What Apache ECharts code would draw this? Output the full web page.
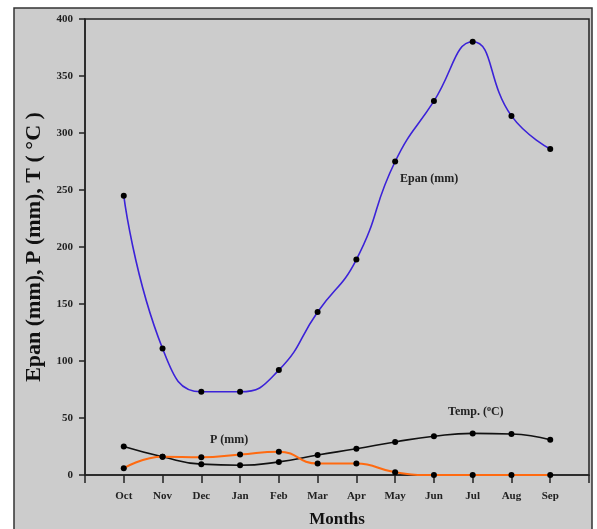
<!DOCTYPE html>
<html>
<head>
<meta charset="utf-8">
<script src="https://cdn.jsdelivr.net/npm/echarts@6/dist/echarts.min.js"></script>
<style>
html,body{margin:0;padding:0;background:#fff;}
#c{width:597px;height:529px;}
</style>
</head>
<body>
<div id="c"></div>
<script>
var months = ['Oct','Nov','Dec','Jan','Feb','Mar','Apr','May','Jun','Jul','Aug','Sep'];
var epan = [245, 111, 73, 73, 92, 143, 189, 275, 328, 380, 315, 286];
var temp = [25, 16, 9.5, 8.5, 11.5, 17.5, 23, 29, 34, 36.5, 36, 31];
var precip = [6, 16, 15.5, 18, 20.5, 10, 10, 2.5, 0, 0, 0, 0];
var yTicks = [0, 50, 100, 150, 200, 250, 300, 350, 400];

function pairs(arr){ return arr.map(function(v,i){ return [i, v]; }); }

var chart = echarts.init(document.getElementById('c'), null, {renderer:'canvas'});
var serif = '"Liberation Serif", "DejaVu Serif", serif';
var lbl = {fontFamily: serif, fontWeight: 'bold', color: '#222'};

chart.setOption({
  backgroundColor: '#fff',
  animation: false,
  graphic: [
    {type:'rect', z:-10, shape:{x:14, y:8, width:578, height:540}, style:{fill:'#cccccc', stroke:'#333', lineWidth:1.5}},
    {type:'text', left:400, top:173, style:{text:'Epan (mm)', font:'bold 12px ' + serif, fill:'#222'}},
    {type:'text', left:210, top:434, style:{text:'P (mm)', font:'bold 12px ' + serif, fill:'#222'}},
    {type:'text', left:448, top:405, style:{
      text:'Temp. ({s|o}C)', font:'bold 12px ' + serif, fill:'#222',
      rich:{s:{fontSize:8, fontFamily:serif, fontWeight:'bold', verticalAlign:'top', padding:[0,0,6,0]}}
    }}
  ],
  grid: {left:85, right:8, top:19, bottom:54, outerBoundsMode:'none', show:true, borderColor:'#222', borderWidth:1.5, backgroundColor:'transparent'},
  xAxis: {
    type:'value', min:-1, max:12, interval:1,
    name:'Months', nameLocation:'middle', nameGap:36,
    nameTextStyle:{fontFamily:serif, fontWeight:'bold', fontSize:17, color:'#111'},
    axisLine:{show:true, lineStyle:{color:'#222', width:1.5}},
    axisTick:{show:true, length:8, lineStyle:{color:'#222', width:1.5}},
    axisLabel:Object.assign({fontSize:11, margin:16, formatter:function(v){ return (v>=0 && v<months.length) ? months[v] : ''; }}, lbl),
    splitLine:{show:false}
  },
  yAxis: {
    type:'value', min:0, max:400, interval:50,
    name:'Epan (mm), P (mm), T ( °C )', nameLocation:'middle', nameGap:38,
    nameTextStyle:{fontFamily:serif, fontWeight:'bold', fontSize:22, color:'#111'},
    axisLine:{show:true, onZero:false, lineStyle:{color:'#222', width:1.5}},
    axisTick:{show:true, length:6, lineStyle:{color:'#222', width:1.5}},
    axisLabel:Object.assign({fontSize:11, margin:12, formatter:function(v){ return yTicks.indexOf(v)>=0 ? String(v) : ''; }}, lbl),
    splitLine:{show:false}
  },
  series: [
    {type:'line', data:pairs(epan), smooth:0.5, symbol:'circle', symbolSize:6,
     lineStyle:{color:'#3b22d8', width:1.6}, itemStyle:{color:'#000'}},
    {type:'line', data:pairs(temp), smooth:0.5, symbol:'circle', symbolSize:6,
     lineStyle:{color:'#111', width:1.6}, itemStyle:{color:'#000'}},
    {type:'line', data:pairs(precip), smooth:0.5, symbol:'circle', symbolSize:6,
     lineStyle:{color:'#ff6a10', width:2}, itemStyle:{color:'#000'}}
  ]
});
</script>
</body>
</html>
